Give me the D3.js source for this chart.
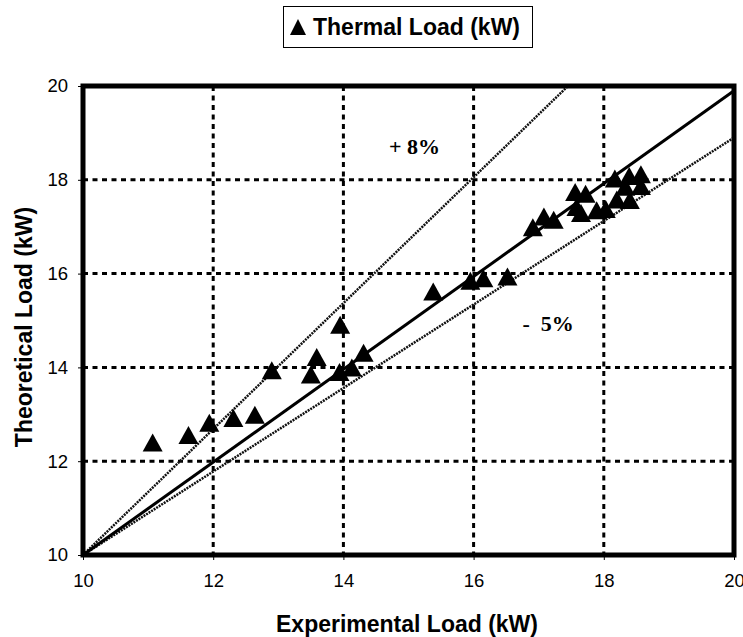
<!DOCTYPE html>
<html>
<head>
<meta charset="utf-8">
<script src="https://d3js.org/d3.v7.min.js"></script>
<style>
    body { margin: 0; background: #fff; }
    svg { display: block; }
    .tick text { font-family: "Liberation Sans", Arial, sans-serif; font-size: 18.5px; fill: #000; }
    .title { font-family: "Liberation Sans", Arial, sans-serif; font-weight: bold; font-size: 23px; fill: #000; }
    .note { font-family: "Liberation Serif", "Times New Roman", serif; font-weight: bold; font-size: 22px; fill: #000; white-space: pre; }
</style>
</head>
<body>
<svg width="743" height="637"></svg>
<script>
    // measured points (experimental, theoretical)
    var experimental = [11.07, 11.62, 11.94, 12.31, 12.64, 12.90, 13.50, 13.59, 13.95, 13.94, 14.13, 14.31,
        15.38, 15.95, 16.15, 16.52, 16.91, 17.08, 17.23, 17.56, 17.58, 17.65, 17.72, 17.89, 18.03,
        18.17, 18.20, 18.33, 18.39, 18.40, 18.57, 18.57];
    var theoretical = [12.40, 12.56, 12.82, 12.92, 12.99, 13.94, 13.85, 14.22, 14.91, 13.90, 14.00, 14.31,
        15.62, 15.85, 15.90, 15.94, 16.99, 17.22, 17.15, 17.74, 17.42, 17.29, 17.70, 17.35, 17.38,
        18.03, 17.58, 17.85, 18.08, 17.57, 18.12, 17.87];

    var xTicks = [10, 12, 14, 16, 18, 20];
    var yTicks = [10, 12, 14, 16, 18, 20];

    // reference lines: equality, upper band, lower band
    var lineEqual = [[10, 10], [20, 19.9]];
    var linePlus = [[10, 10], [17.45, 20]];
    var lineMinus = [[10, 10], [20, 18.9]];

    var svg = d3.select('svg');
    var pLeft = 83, pRight = 734, pTop = 86, pBottom = 555;

    var xs = d3.scaleLinear().domain([10, 20]).range([pLeft, pRight]);
    var ys = d3.scaleLinear().domain([10, 20]).range([pBottom, pTop]);

    // legend
    var lg = svg.append('g');
    lg.append('rect')
        .attr('x', 283.5).attr('y', 6.5).attr('width', 249).attr('height', 41)
        .attr('fill', '#fff').attr('stroke', '#000').attr('stroke-width', 1);
    lg.append('path')
        .attr('d', 'M290,35 L298,19 L306,35 Z')
        .attr('fill', '#000');
    lg.append('text').attr('class', 'title')
        .attr('x', 313).attr('y', 35)
        .text('Thermal Load (kW)');

    // grid
    var grid = svg.append('g');
    grid.selectAll('.gx').data(xTicks.slice(1, -1)).enter().append('line')
        .attr('x1', function (d) { return xs(d); }).attr('x2', function (d) { return xs(d); })
        .attr('y1', pTop).attr('y2', pBottom)
        .attr('stroke', '#000').attr('stroke-width', 3).attr('stroke-dasharray', '5,4.5');
    grid.selectAll('.gy').data(yTicks.slice(1, -1)).enter().append('line')
        .attr('y1', function (d) { return ys(d); }).attr('y2', function (d) { return ys(d); })
        .attr('x1', pLeft).attr('x2', pRight)
        .attr('stroke', '#000').attr('stroke-width', 3).attr('stroke-dasharray', '5,4.5');

    // axes
    svg.append('g')
        .attr('transform', 'translate(0,' + pBottom + ')')
        .call(d3.axisBottom(xs).tickValues(xTicks).tickSize(5).tickPadding(14));
    svg.append('g')
        .attr('transform', 'translate(' + pLeft + ',0)')
        .call(d3.axisLeft(ys).tickValues(yTicks).tickSize(5).tickPadding(10));
    svg.selectAll('.domain').remove();
    svg.selectAll('.tick line').attr('stroke', '#000').attr('stroke-width', 1);

    // reference lines
    var line = d3.line()
        .x(function (d) { return xs(d[0]); })
        .y(function (d) { return ys(d[1]); });
    svg.append('path').datum(linePlus).attr('d', line)
        .attr('stroke', '#111').attr('stroke-width', 2.5).attr('stroke-dasharray', '2,1').attr('fill', 'none');
    svg.append('path').datum(lineMinus).attr('d', line)
        .attr('stroke', '#111').attr('stroke-width', 2.5).attr('stroke-dasharray', '2,1').attr('fill', 'none');
    svg.append('path').datum(lineEqual).attr('d', line)
        .attr('stroke', '#000').attr('stroke-width', 3).attr('fill', 'none');

    // plot border
    svg.append('rect')
        .attr('x', pLeft).attr('y', pTop)
        .attr('width', pRight - pLeft).attr('height', pBottom - pTop)
        .attr('fill', 'none').attr('stroke', '#000').attr('stroke-width', 5);

    // points
    function tri(w, h) {
        return 'M' + (-w / 2) + ',' + (h / 2) + ' L0,' + (-h / 2) + ' L' + (w / 2) + ',' + (h / 2) + ' Z';
    }
    svg.append('g').selectAll('path').data(experimental).enter().append('path')
        .attr('d', tri(20, 18))
        .attr('transform', function (d, i) { return 'translate(' + xs(d) + ',' + ys(theoretical[i]) + ')'; })
        .attr('fill', '#000');

    // band labels
    svg.append('text').attr('class', 'note')
        .attr('x', xs(14.7)).attr('y', ys(18.55)).text('+ 8%');
    svg.append('text').attr('class', 'note')
        .attr('x', xs(16.75)).attr('y', ys(14.78)).text('-  5%');

    // axis titles
    svg.append('text').attr('class', 'title')
        .attr('text-anchor', 'middle')
        .attr('x', 407).attr('y', 632)
        .text('Experimental Load (kW)');
    svg.append('text').attr('class', 'title')
        .attr('text-anchor', 'middle')
        .attr('transform', 'translate(32,327) rotate(-90)')
        .text('Theoretical Load (kW)');
</script>
</body>
</html>
